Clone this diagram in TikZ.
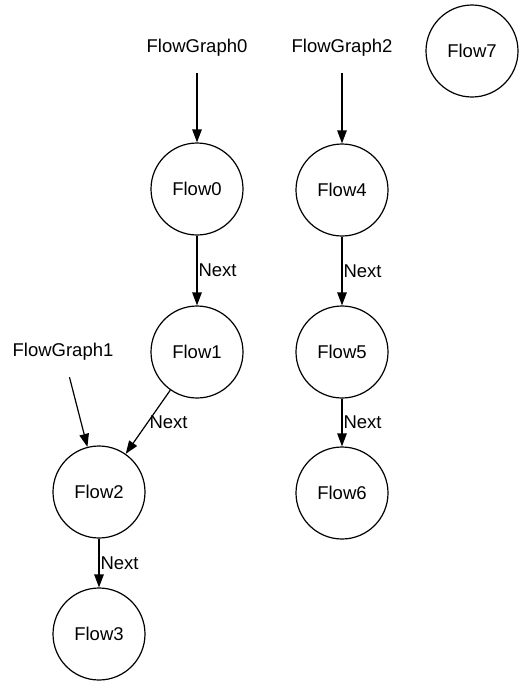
\documentclass[tikz,border=0pt]{standalone}
\usepackage{fontspec}
\setmainfont{Liberation Sans}
\usetikzlibrary{positioning, arrows.meta, shapes}

\begin{document}
\begin{tikzpicture}[x=1pt, y=-1pt,
	flowNode/.style={circle, draw, line width=1.2pt, text centered, minimum size=92pt, inner sep=0pt},
	graphLabel/.style={text centered, minimum height=50pt, inner sep=0pt},
	flowArrow/.style={-{Triangle[length=13pt,width=9.5pt]}, line width=1.2pt},
	nextLabel/.style={midway, right, inner sep=1pt},
	every node/.style={font=\fontsize{18.5}{22}\selectfont}]
		
		\useasboundingbox (0,0) rectangle (524,686);
		
		%Nodi dei grafi
		\node (flowGraph0) at (197,48) [graphLabel] {FlowGraph0};
		\node (flowGraph2) at (342,48) [graphLabel] {FlowGraph2};
		\node (flowGraph1) at (63,352) [graphLabel] {FlowGraph1};
		
		%Nodi dei flussi
		\node (flow7) at (472,51) [flowNode] {Flow7};
		\node (flow0) at (197,189) [flowNode] {Flow0};
		\node (flow4) at (342,190) [flowNode] {Flow4};
		\node (flow1) at (197,352) [flowNode] {Flow1};
		\node (flow5) at (342,352) [flowNode] {Flow5};
		\node (flow2) at (99,492) [flowNode] {Flow2};
		\node (flow6) at (342,493) [flowNode] {Flow6};
		\node (flow3) at (99,634) [flowNode] {Flow3};
		
		\draw[flowArrow] (flowGraph0) -- (flow0);
		\draw[flowArrow] (flowGraph2) -- (flow4);
		\draw[flowArrow] (flowGraph1) -- (flow2);
		\draw[flowArrow] (flow0) -- node[nextLabel]{Next} (flow1);
		\draw[flowArrow] (flow4) -- node[nextLabel]{Next} (flow5);
		\draw[flowArrow] (flow5) -- node[nextLabel]{Next} (flow6);
		\draw[flowArrow] (flow1) -- node[nextLabel]{Next} (flow2);
		\draw[flowArrow] (flow2) -- node[nextLabel]{Next} (flow3);
		
		\end{tikzpicture}
\end{document}
